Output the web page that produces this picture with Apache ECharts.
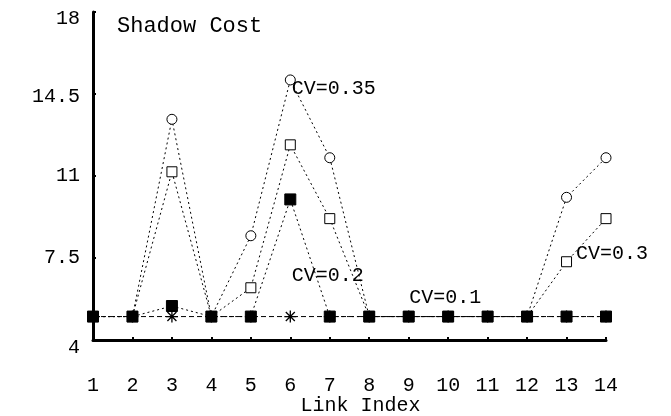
<!DOCTYPE html>
<html><head><meta charset="utf-8">
<script src="https://cdn.jsdelivr.net/npm/echarts@6/dist/echarts.min.js"></script>
<style>html,body{margin:0;padding:0;background:#fff}#c{width:671px;height:416px}</style>
</head><body><div id="c"></div>
<script>
const categories = ['1','2','3','4','5','6','7','8','9','10','11','12','13','14'];
const yTicks = [4, 7.5, 11, 14.5, 18];
const cv01 = [5,5,5,5,5,5,5,5,5,5,5,5,5,5];
const cv02 = [5,5,5.45,5,5,10.0,5,5,5,5,5,5,5,5];
const cv03 = [5,5,11.18,5,6.23,12.33,9.18,5,5,5,5,5,7.34,9.18];
const cv035 = [5,5,13.42,5,8.45,15.1,11.78,5,5,5,5,5,10.09,11.78];

const FONT = 'Liberation Mono';
const FS = 20;
const star = 'path://M0,-6 L0,6 M-6,0 L6,0 M-4.5,-4.5 L4.5,4.5 M-4.5,4.5 L4.5,-4.5';

function lbl(text, x, y, dx) {
  return { symbol: 'circle', symbolSize: 1, itemStyle: { color: 'rgba(0,0,0,0)', borderWidth: 0 },
    data: [{ coord: [x, y] }],
    label: { show: true, formatter: text, position: 'right', distance: dx,
      color: '#000', fontFamily: FONT, fontSize: FS } };
}

const chart = echarts.init(document.getElementById('c'), null, { renderer: 'canvas' });
chart.setOption({
  animation: false,
  backgroundColor: '#fff',
  title: { text: 'Shadow Cost', left: 112, top: 10,
    textStyle: { fontFamily: FONT, fontSize: 22, fontWeight: 'normal', color: '#000' } },
  grid: { left: 93, right: 65, top: 12, bottom: 76, outerBoundsMode: 'none', containLabel: false },
  xAxis: {
    type: 'category', data: categories, boundaryGap: false,
    name: 'Link Index', nameLocation: 'middle', nameGap: 56, nameMoveOverlap: false,
    nameTextStyle: { fontFamily: FONT, fontSize: FS, color: '#000', padding: [0,0,0,22] },
    axisLine: { lineStyle: { color: '#000', width: 3 } },
    axisTick: { inside: true, length: 3, lineStyle: { color: '#000', width: 2 } },
    axisLabel: { margin: 36, fontFamily: FONT, fontSize: FS, color: '#000' },
    splitLine: { show: false }
  },
  yAxis: {
    type: 'value', min: 4, max: 18,
    axisLine: { show: true, lineStyle: { color: '#000', width: 3 } },
    axisTick: { show: true, inside: true, length: 3, customValues: yTicks, lineStyle: { color: '#000', width: 2 } },
    axisLabel: { margin: 13, customValues: yTicks, fontFamily: FONT, fontSize: FS, color: '#000',
      formatter: function (v) {
        if (v === 18) return '{t|18}';
        if (v === 4) return '{b|4}';
        if (v === 14.5) return '{m|14.5}';
        return String(v);
      },
      rich: {
        t: { fontFamily: FONT, fontSize: FS, color: '#000', padding: [14, 0, 0, 0] },
        b: { fontFamily: FONT, fontSize: FS, color: '#000', padding: [16, 0, 0, 0] },
        m: { fontFamily: FONT, fontSize: FS, color: '#000', padding: [5, 0, 0, 0] }
      }
    },
    splitLine: { show: false }
  },
  series: [
    { name: 'CV=0.1', type: 'line', data: cv01, z: 2, symbol: star, symbolSize: 12,
      itemStyle: { color: 'rgba(0,0,0,0)', borderColor: '#000', borderWidth: 1.3 },
      lineStyle: { color: '#000', width: 1, type: [5, 3] },
      markPoint: lbl('CV=0.1', '9', 5.79, 0) },
    { name: 'CV=0.3', type: 'line', data: cv03, z: 3, symbol: 'rect', symbolSize: 10,
      itemStyle: { color: '#fff', borderColor: '#000', borderWidth: 1 },
      lineStyle: { color: '#000', width: 1, type: [2, 3] },
      markPoint: lbl('CV=0.3', '13', 7.67, 9) },
    { name: 'CV=0.35', type: 'line', data: cv035, z: 4, symbol: 'circle', symbolSize: 10,
      itemStyle: { color: '#fff', borderColor: '#000', borderWidth: 1 },
      lineStyle: { color: '#000', width: 1, type: [2, 3] },
      markPoint: lbl('CV=0.35', '6', 14.71, 1) },
    { name: 'CV=0.2', type: 'line', data: cv02, z: 5, symbol: 'rect', symbolSize: 11,
      itemStyle: { color: '#000', borderColor: '#000' },
      lineStyle: { color: '#000', width: 1, type: [2, 3] },
      markPoint: lbl('CV=0.2', '6', 6.73, 1) }
  ]
});
</script></body></html>
